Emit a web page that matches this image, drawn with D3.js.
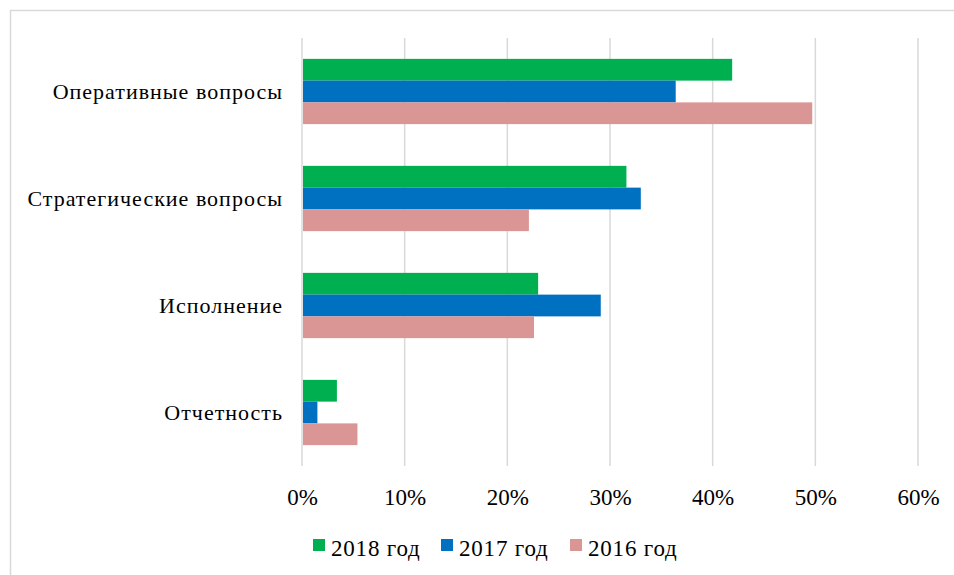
<!DOCTYPE html>
<html>
<head>
<meta charset="utf-8">
<script src="https://cdn.jsdelivr.net/npm/d3@7"></script>
<style>
  body { margin: 0; background: #fff; }
  svg text { font-family: "Liberation Serif", "Times New Roman", serif; fill: #000; }
</style>
</head>
<body>
<svg width="954" height="575"></svg>
<script>
var categories = ['Оперативные вопросы', 'Стратегические вопросы', 'Исполнение', 'Отчетность']
var seriesNames = ['2018 год', '2017 год', '2016 год']
var seriesColors = ['#00b050', '#0070c0', '#da9694']
var values2018 = [41.9, 31.6, 23.0, 3.4]
var values2017 = [36.4, 33.0, 29.1, 1.5]
var values2016 = [49.7, 22.1, 22.6, 5.4]
var xTicks = [0, 10, 20, 30, 40, 50, 60]

var series = [values2018, values2017, values2016]

var svg = d3.select('svg'),
	plotLeft = 302, plotRight = 918, plotTop = 38, plotBottom = 466

// chart area border
svg.append('rect')
	.attr('x', 10.5).attr('y', 10.5)
	.attr('width', 1000).attr('height', 1000)
	.attr('fill', 'none').attr('stroke', '#d9d9d9').attr('stroke-width', 1.5)

var x = d3.scaleLinear().domain([0, 60]).range([plotLeft, plotRight])
var y = d3.scaleBand().domain(categories).range([plotTop, plotBottom]).paddingInner(0.39).paddingOuter(0.195)
var ySub = d3.scaleBand().domain(d3.range(series.length)).range([0, y.bandwidth()])

// gridlines
svg.append('g').selectAll('line').data(xTicks)
	.enter().append('line')
	.attr('x1', function(d) { return x(d) }).attr('x2', function(d) { return x(d) })
	.attr('y1', plotTop).attr('y2', plotBottom)
	.attr('stroke', '#d9d9d9').attr('stroke-width', 1.5)

// bars
series.forEach(function(vals, si) {
	svg.append('g').selectAll('rect').data(vals)
		.enter().append('rect')
		.attr('x', x(0) + 1)
		.attr('y', function(d, i) { return y(categories[i]) + ySub(si) })
		.attr('width', function(d) { return x(d) - x(0) - 1 })
		.attr('height', ySub.bandwidth())
		.attr('fill', seriesColors[si])
})

// category labels
svg.append('g').selectAll('text').data(categories)
	.enter().append('text')
	.attr('x', 283)
	.attr('y', function(d) { return y(d) + y.bandwidth() / 2 })
	.attr('dy', '0.35em')
	.attr('text-anchor', 'end')
	.style('font-size', '22px')
	.style('letter-spacing', '1px')
	.text(function(d) { return d })

// x tick labels
var xAxis = d3.axisBottom(x).tickValues(xTicks).tickSize(0).tickPadding(0)
	.tickFormat(function(d) { return d + '%' })
var gx = svg.append('g').attr('transform', 'translate(0,' + 489 + ')').call(xAxis)
gx.select('.domain').remove()
gx.selectAll('text').style('font-size', '23px').attr('font-family', null)

// legend
var legendX = [313, 441, 570]
var legend = svg.append('g').selectAll('g').data(seriesNames)
	.enter().append('g')
	.attr('transform', function(d, i) { return 'translate(' + legendX[i] + ',539)' })
legend.append('rect').attr('width', 12).attr('height', 12)
	.attr('fill', function(d, i) { return seriesColors[i] })
legend.append('text').attr('x', 18).attr('y', 17)
	.style('font-size', '23px')
	.style('letter-spacing', '0.8px')
	.text(function(d) { return d })
</script>
</body>
</html>
